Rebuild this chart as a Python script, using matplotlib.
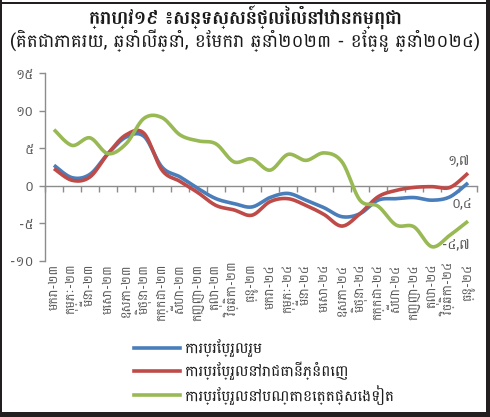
import matplotlib
matplotlib.use("Agg")
import matplotlib.pyplot as plt
import numpy as np
from matplotlib.patches import Rectangle
from matplotlib.ticker import FixedLocator, FuncFormatter
from matplotlib.lines import Line2D

KH = ["Battambang", "DejaVu Sans"]
plt.rcParams['font.family'] = KH

# ---------------- data ----------------
months = ["មករា", "កុម្ភៈ", "មីនា", "មេសា", "ឧសភា", "មិថុនា",
          "កក្កដា", "សីហា", "កញ្ញា", "តុលា", "វិច្ឆិកា", "ធ្នូ"]
years = ["២៣", "២៤"]
categories = [m + "-" + y for y in years for m in months]

overall = [2.75, 1.1, 1.55, 4.3, 6.5, 6.6, 2.5, 1.2, -0.35, -1.7, -2.35, -2.8,
           -1.55, -1.0, -1.9, -2.9, -4.1, -3.7, -1.9, -1.7, -1.55, -1.9, -1.45, 0.4]
phnom_penh = [2.3, 0.75, 1.2, 4.3, 6.8, 7.0, 2.1, 0.6, -0.9, -2.6, -3.2, -3.9,
              -2.1, -1.7, -2.6, -3.8, -5.35, -3.7, -1.45, -0.6, -0.2, -0.1, -0.2, 1.7]
provinces = [7.5, 5.4, 6.4, 4.3, 5.6, 9.0, 9.1, 6.8, 6.0, 5.6, 3.2, 3.6,
             2.1, 4.2, 3.4, 4.4, 3.2, -1.9, -2.7, -5.2, -5.45, -8.1, -6.55, -4.7]

series_names = ["ការប្រែប្រួលរួម", "ការប្រែប្រួលនៅរាជធានីភ្នំពេញ",
                "ការប្រែប្រួលនៅបណ្តាខេត្តផ្សេងទៀត"]
colors = ["#4a7ebb", "#be4b48", "#98b954"]

title = "ក្រាហ្វ១៩ ៖សន្ទស្សន៍ថ្លៃលំនៅឋានកម្ពុជា"
subtitle = "(គិតជាភាគរយ, ឆ្នាំលើឆ្នាំ, ខែមករា ឆ្នាំ២០២៣ - ខែធ្នូ ឆ្នាំ២០២៤)"

yticks = [-10, -5, 0, 5, 10, 15]

KHD = str.maketrans("0123456789.", "០១២៣៤៥៦៧៨៩,")


def kh(v):
    s = ("%g" % v)
    return s.translate(KHD)


def catmull_rom(y, n=20):
    y = np.asarray(y, float)
    x = np.arange(len(y), dtype=float)
    P = np.column_stack([x, y])
    P = np.vstack([P[0], P, P[-1]])
    out = []
    for i in range(1, len(P) - 2):
        p0, p1, p2, p3 = P[i - 1], P[i], P[i + 1], P[i + 2]
        c1 = p1 + (p2 - p0) / 6.0
        c2 = p2 - (p3 - p1) / 6.0
        t = np.linspace(0, 1, n, endpoint=False)[:, None]
        b = ((1 - t) ** 3) * p1 + 3 * ((1 - t) ** 2) * t * c1 + 3 * (1 - t) * t ** 2 * c2 + t ** 3 * p2
        out.append(b)
    out.append(P[-2][None, :])
    out = np.vstack(out)
    return out[:, 0], out[:, 1]


# ---------------- figure ----------------
W, H = 490, 417
fig = plt.figure(figsize=(W / 100, H / 100), dpi=100)
ax = fig.add_axes([45 / W, 1 - 261 / H, 432 / W, (261 - 73.3) / H])

for vals, c in zip([overall, phnom_penh, provinces], colors):
    sx, sy = catmull_rom(vals)
    ax.plot(sx, sy, color=c, lw=2.6, solid_capstyle="butt", zorder=3)

n = len(categories)
ax.set_xlim(-0.5, n - 0.5)
ax.set_ylim(-10, 15)

axis_gray = "#8c8c8c"
label_gray = "#595959"

for s in ["top", "right", "bottom"]:
    ax.spines[s].set_visible(False)
ax.spines["left"].set_color(axis_gray)
ax.spines["left"].set_linewidth(1.0)

ax.yaxis.set_major_locator(FixedLocator(yticks))
ax.yaxis.set_major_formatter(FuncFormatter(lambda v, p: kh(v)))
ax.tick_params(axis="y", direction="out", length=4, width=1.0, color=axis_gray,
               labelcolor=label_gray, labelsize=10, pad=4)

ax.set_xticks(np.arange(n))
ax.set_xticklabels(categories, rotation=90, fontsize=9, color=label_gray)
ax.tick_params(axis="x", length=0, pad=2)

# zero axis line with tick marks at category boundaries
sec = ax.secondary_xaxis((0 - (-10)) / 25.0)
sec.spines["bottom"].set_color(axis_gray)
sec.spines["bottom"].set_linewidth(1.0)
sec.set_xticks(np.arange(n + 1) - 0.5)
sec.set_xticklabels([])
sec.tick_params(axis="x", direction="out", length=4, width=1.0, color=axis_gray)

# end-value labels
offsets = [(-6, -20), (-9, 12), (-12, -24)]
for vals, off in zip([overall, phnom_penh, provinces], offsets):
    ax.annotate(kh(vals[-1]), xy=(n - 1, vals[-1]), xytext=off,
                textcoords="offset pixels", ha="center", va="center",
                fontsize=10, color=label_gray)

# titles
fig.text(0.5, 1 - 18 / H, title, ha="center", va="center", fontsize=13.5,
         fontweight="bold", color="#1a1a1a")
fig.text(0.5, 1 - 41 / H, subtitle, ha="center", va="center", fontsize=13.2,
         color="#1a1a1a")

# legend
handles = [Line2D([0], [0], color=c, lw=2.6) for c in colors]
fig.legend(handles, series_names, loc="upper left",
           bbox_to_anchor=(128 / W, 1 - 333 / H), frameon=False,
           fontsize=11, handlelength=3.0, handletextpad=0.3,
           labelspacing=0.3, borderaxespad=0, labelcolor="#1a1a1a")

# frame around the figure
bc = "#231f20"
for (x0, y0, w, h) in [(0, 0, 2, H), (0, 1.5, W, 2), (486, 0, 4, H), (0, 412, W, 5)]:
    fig.patches.append(Rectangle((x0 / W, 1 - (y0 + h) / H), w / W, h / H,
                                 transform=fig.transFigure, color=bc, lw=0))

fig.savefig("out.png", dpi=100)
